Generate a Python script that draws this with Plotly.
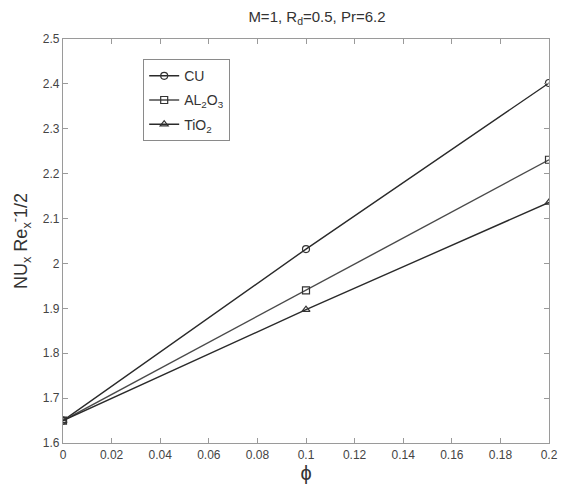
import plotly.graph_objects as go

phi = [0.0, 0.1, 0.2]
cu = [1.65, 2.032, 2.402]
al2o3 = [1.65, 1.940, 2.231]
tio2 = [1.65, 1.897, 2.136]
names = ["CU", "AL<sub>2</sub>O<sub>3</sub>", "TiO<sub>2</sub>"]
symbols = ["circle-open", "square-open", "triangle-up-open"]
line_colors = ["#2a2a2a", "#4a4a4a", "#2a2a2a"]

x_ticks = [0, 0.02, 0.04, 0.06, 0.08, 0.1, 0.12, 0.14, 0.16, 0.18, 0.2]
x_ticktext = ["0", "0.02", "0.04", "0.06", "0.08", "0.1", "0.12", "0.14", "0.16", "0.18", "0.2"]
y_ticks = [1.6, 1.7, 1.8, 1.9, 2.0, 2.1, 2.2, 2.3, 2.4, 2.5]
y_ticktext = ["1.6", "1.7", "1.8", "1.9", "2", "2.1", "2.2", "2.3", "2.4", "2.5"]

fig = go.Figure()
for i, (ys, nm, sym, lc) in enumerate(zip([cu, al2o3, tio2], names, symbols, line_colors)):
    fig.add_trace(go.Scatter(
        x=phi, y=ys, name=nm, mode="lines+markers", legendgroup=f"g{i}",
        line=dict(color=lc, width=1.4),
        marker=dict(symbol=sym, size=7, color="#333333", line=dict(width=1.2)),
    ))

axis_common = dict(
    showgrid=False, zeroline=False, showline=True, linecolor="#9a9a9a", linewidth=1.3,
    mirror="ticks", ticks="inside", ticklen=5, tickcolor="#9a9a9a", automargin=False,
    tickfont=dict(family="Arial, Liberation Sans", size=12, color="#444444"),
)
fig.update_xaxes(range=[0, 0.2], tickvals=x_ticks, ticktext=x_ticktext,
                 title=dict(text="ϕ", font=dict(family="Arial, Liberation Sans", size=20, color="#333333"), standoff=4),
                 **axis_common)
fig.update_yaxes(range=[1.6, 2.5], tickvals=y_ticks, ticktext=y_ticktext,
                 title=dict(text="NU<sub>x</sub> Re<sub>x</sub><sup>-</sup>1/2", font=dict(family="Arial, Liberation Sans", size=18, color="#333333"), standoff=10),
                 **axis_common)

fig.update_layout(
    width=561, height=487,
    margin=dict(l=63, r=12, t=39, b=44),
    paper_bgcolor="white", plot_bgcolor="white",
    title=dict(text="M=1, R<sub>d</sub>=0.5, Pr=6.2", x=0.565, xanchor="center", y=0.965, yanchor="middle",
               font=dict(family="Arial, Liberation Sans", size=15, color="#333333")),
    showlegend=True,
    legend=dict(x=0.165, y=0.95, xanchor="left", yanchor="top",
                bordercolor="#8a8a8a", borderwidth=1, bgcolor="white",
                font=dict(family="Arial, Liberation Sans", size=14, color="#333333"),
                itemwidth=30, tracegroupgap=3, traceorder="grouped"),
)

fig.write_html("out.html")
